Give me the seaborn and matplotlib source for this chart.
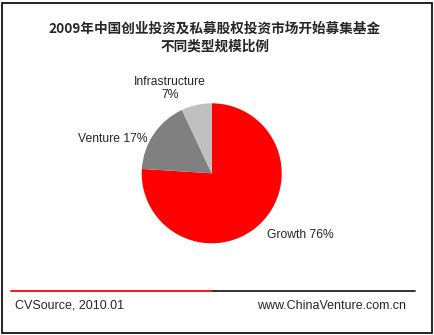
import matplotlib
matplotlib.use("Agg")
import matplotlib.pyplot as plt
import seaborn as sns
from matplotlib.patches import Rectangle
from matplotlib.lines import Line2D

categories = ["Growth", "Venture", "Infrastructure"]
shares = [76, 17, 7]
colors = ["#FF0000", "#808080", "#C0C0C0"]
title = "2009年中国创业投资及私募股权投资市场开始募集基金\n不同类型规模比例"
source = "CVSource, 2010.01"
site = "www.ChinaVenture.com.cn"

sns.set_style("white")
plt.rcParams['font.family'] = ['Liberation Sans', 'DejaVu Sans']

W, H = 435, 335
fig = plt.figure(figsize=(W / 100, H / 100), dpi=100)
fig.patch.set_facecolor("white")

# frame
fig.add_artist(Rectangle((2 / W, 2 / H), 430 / W, 330 / H, transform=fig.transFigure,
                         fill=False, edgecolor="black", linewidth=1.2))

# title
fig.text(215 / W, 1 - 37.5 / H, title, ha="center", va="center", fontsize=9.8,
         fontweight="bold", family=['Noto Sans CJK SC', 'DejaVu Sans'], linespacing=1.3)

# pie axes
cx, cy, r = 211.7, 173.3, 70
ax = fig.add_axes([(cx - r) / W, (H - cy - r) / H, 2 * r / W, 2 * r / H])
wedges, _ = ax.pie(shares, colors=colors, startangle=90, counterclock=False,
                   radius=1, wedgeprops=dict(linewidth=0))
ax.set_xlim(-1, 1)
ax.set_ylim(-1, 1)
ax.set_aspect("equal")
ax.axis("off")

fs = 8.7
lab = [f"{c} {v}%" for c, v in zip(categories, shares)]
ax.text(0.79, -0.88, lab[0], ha="left", va="center", fontsize=fs, clip_on=False)
ax.text(-0.92, 0.49, lab[1], ha="right", va="center", fontsize=fs, clip_on=False)
ax.text(-0.6, 1.21, f"{categories[2]}\n{shares[2]}%", ha="center", va="center",
        fontsize=fs, clip_on=False, linespacing=1.1)

# footer line
fig.add_artist(Line2D([11 / W, 213 / W], [1 - 291 / H] * 2, color="#FF0000", lw=1.3,
                      transform=fig.transFigure))
fig.add_artist(Line2D([213 / W, 415 / W], [1 - 291 / H] * 2, color="#222222", lw=1.3,
                      transform=fig.transFigure))
fig.text(15 / W, 1 - 306 / H, source, ha="left", va="center", fontsize=9)
fig.text(406 / W, 1 - 306 / H, site, ha="right", va="center", fontsize=9)

fig.savefig("out.png", dpi=100)
